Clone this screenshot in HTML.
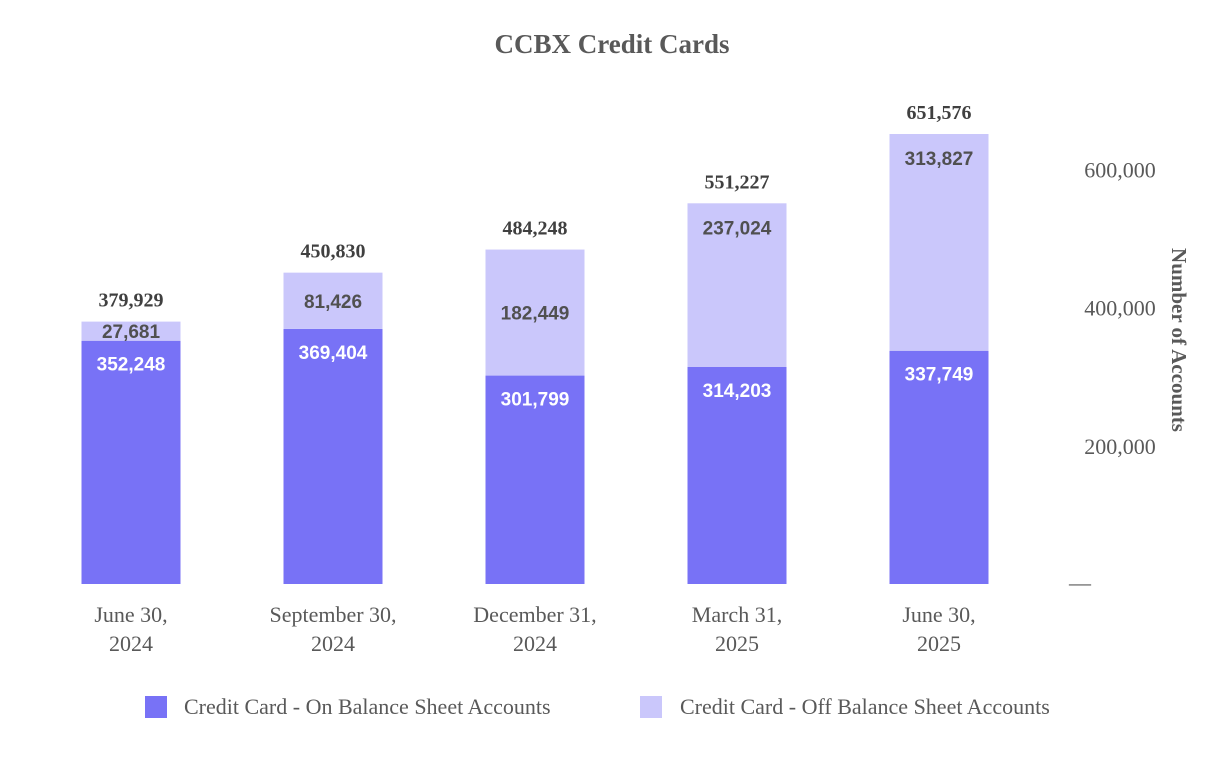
<!DOCTYPE html>
<html><head><meta charset="utf-8"><style>
body{margin:0;background:#fff;}
svg{display:block;}
</style></head><body>
<svg id="chart" width="1226" height="760" viewBox="0 0 1226 760" xmlns="http://www.w3.org/2000/svg">
<text x="612" y="53" text-anchor="middle" font-family="Liberation Serif, serif" font-weight="bold" font-size="27" fill="#595959">CCBX Credit Cards</text>
<g id="bars"></g>
<g id="yaxis"></g>
<text transform="translate(1172,340) rotate(90)" text-anchor="middle" font-family="Liberation Serif, serif" font-weight="bold" font-size="21" fill="#595959">Number of Accounts</text>
<g>
<rect x="145" y="696" width="22" height="22" fill="#7872F6"/>
<text x="184" y="714" font-family="Liberation Serif, serif" font-size="22" fill="#595959">Credit Card -  On Balance Sheet Accounts</text>
<rect x="640" y="696" width="22" height="22" fill="#CAC7FB"/>
<text x="680" y="714" font-family="Liberation Serif, serif" font-size="22" fill="#595959">Credit Card -  Off Balance Sheet Accounts</text>
</g>
</svg>
<script>
const categories = [["June 30,","2024"],["September 30,","2024"],["December 31,","2024"],["March 31,","2025"],["June 30,","2025"]];
const onBalance = [352248, 369404, 301799, 314203, 337749];
const offBalance = [27681, 81426, 182449, 237024, 313827];
const yTicks = [200000, 400000, 600000];
const NS = "http://www.w3.org/2000/svg";
const baseY = 584, pxPerUnit = 450/651576;
const y = v => baseY - v*pxPerUnit;
const xc = i => 131 + i*202;
const barW = 99;
const fmt = v => v.toLocaleString("en-US");
function mk(tag, attrs, parent, text){
  const e = document.createElementNS(NS, tag);
  for (const k in attrs) e.setAttribute(k, attrs[k]);
  if (text !== undefined) e.textContent = text;
  parent.appendChild(e); return e;
}
const gb = document.getElementById("bars");
categories.forEach((c,i)=>{
  const on = onBalance[i], off = offBalance[i], tot = on+off;
  const yOn = y(on), yTot = y(tot);
  const r1 = mk("rect",{x:xc(i)-barW/2,y:yOn,width:barW,height:baseY-yOn,fill:"#7872F6"},gb);
  
  
  const r2 = mk("rect",{x:xc(i)-barW/2,y:yTot,width:barW,height:yOn-yTot,fill:"#CAC7FB"},gb);
  
  
  const segH = yOn-yTot;
  const offY = segH < 140 ? (yTot+yOn)/2 + 7 : yTot + 31;
  const t1 = mk("text",{x:xc(i),y:offY,"text-anchor":"middle","font-family":"Liberation Sans, sans-serif","font-weight":"bold","font-size":"19",fill:"#505050"},gb,fmt(off));
  
  
  const t2 = mk("text",{x:xc(i),y:yOn+30,"text-anchor":"middle","font-family":"Liberation Sans, sans-serif","font-weight":"bold","font-size":"19",fill:"#ffffff"},gb,fmt(on));
  
  
  const t3 = mk("text",{x:xc(i),y:yTot-15,"text-anchor":"middle","font-family":"Liberation Serif, serif","font-weight":"bold","font-size":"20",fill:"#404040"},gb,fmt(tot));
  
  
  c.forEach((line,k)=>{
    const t = mk("text",{x:xc(i),y:622+k*29,"text-anchor":"middle","font-family":"Liberation Serif, serif","font-size":"22",fill:"#595959"},gb,line);
    
    
  });
});
const gy = document.getElementById("yaxis");
const z = mk("text",{x:1080,y:baseY+6,"text-anchor":"middle","font-family":"Liberation Serif, serif","font-size":"22",fill:"#595959"},gy,"—");


yTicks.forEach(v=>{
  const t = mk("text",{x:1120,y:y(v)+8,"text-anchor":"middle","font-family":"Liberation Serif, serif","font-size":"22",fill:"#595959"},gy,fmt(v));
  
  
});
</script>
</body></html>
